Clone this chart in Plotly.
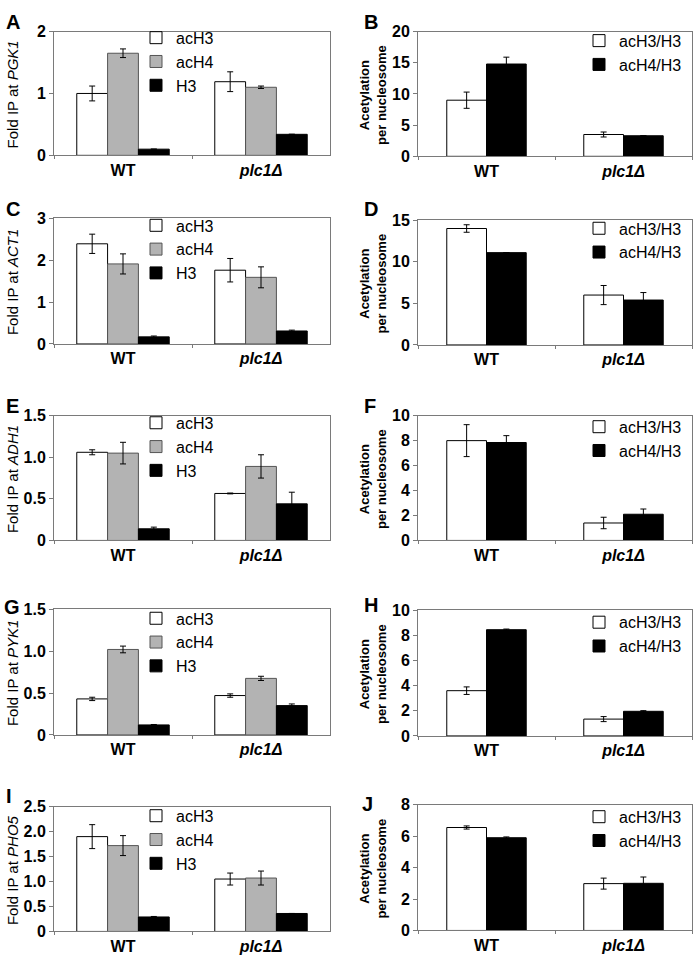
import plotly.graph_objects as go

W, H = 693, 965
groups = ["WT", "plc1Δ"]
group_labels = ["<b>WT</b>", "<b><i>plc1Δ</i></b>"]

# left panels: fold IP (acH3, acH4, H3) -- values and errors per group
genes = ["PGK1", "ACT1", "ADH1", "PYK1", "PHO5"]
ach3 = [[1.0, 1.19], [2.39, 1.76], [1.06, 0.565], [0.43, 0.47], [1.9, 1.05]]
ach3_err = [[0.12, 0.16], [0.23, 0.28], [0.03, 0.005], [0.02, 0.02], [0.24, 0.12]]
ach4 = [[1.65, 1.10], [1.91, 1.59], [1.05, 0.89], [1.02, 0.675], [1.72, 1.07]]
ach4_err = [[0.07, 0.02], [0.24, 0.25], [0.13, 0.14], [0.04, 0.025], [0.2, 0.14]]
h3 = [[0.10, 0.34], [0.17, 0.31], [0.14, 0.44], [0.12, 0.35], [0.29, 0.36]]
h3_err = [[0.0, 0.0], [0.02, 0.02], [0.02, 0.14], [0.005, 0.02], [0.01, 0.0]]
left_ranges = [2, 3, 1.5, 1.5, 2.5]
left_ticks = [
    ["0", "1", "2"],
    ["0", "1", "2", "3"],
    ["0", "0.5", "1.0", "1.5"],
    ["0", "0.5", "1.0", "1.5"],
    ["0", "0.5", "1.0", "1.5", "2.0", "2.5"],
]

# right panels: acetylation per nucleosome
ratio3 = [[9.0, 3.5], [14.0, 6.0], [8.0, 1.4], [3.6, 1.34], [6.55, 2.98]]
ratio3_err = [[1.3, 0.4], [0.45, 1.15], [1.28, 0.46], [0.3, 0.2], [0.1, 0.35]]
ratio4 = [[14.8, 3.3], [11.1, 5.4], [7.85, 2.1], [8.45, 1.96], [5.9, 3.0]]
ratio4_err = [[1.1, 0.0], [0.0, 0.9], [0.55, 0.42], [0.05, 0.05], [0.05, 0.4]]
right_ranges = [20, 15, 10, 10, 8]
right_ticks = [
    ["0", "5", "10", "15", "20"],
    ["0", "5", "10", "15"],
    ["0", "2", "4", "6", "8", "10"],
    ["0", "2", "4", "6", "8", "10"],
    ["0", "2", "4", "6", "8"],
]

letters = ["A", "B", "C", "D", "E", "F", "G", "H", "I", "J"]

# pixel boxes of each plot area: (left, right, top, bottom)
left_boxes = [(54, 330, 24, 150), (54, 330, 214, 342), (54, 330, 415, 542),
              (54, 330, 612, 740), (54, 330, 813, 940)]
right_boxes = [(418, 692, 24, 151), (418, 692, 216, 343), (418, 692, 415, 542),
               (418, 692, 613, 741), (418, 692, 811, 939)]
# y of first legend entry centre (px)
left_leg_y = [34, 225, 426, 625, 826]
right_leg_y = [37, 228, 430, 629, 827]
letter_pos = [(4, 1), (362, 1), (4, 191), (362, 191), (4, 392), (362, 392),
              (2, 596), (362, 594), (4, 789), (360, 797)]
LEG_OFF = 21

FONT = "Liberation Sans, Arial, sans-serif"
FRAME = "#7a7a7a"

fig = go.Figure()
layout = dict(width=W, height=H, margin=dict(l=0, r=0, t=0, b=0),
              paper_bgcolor="white", plot_bgcolor="white", showlegend=True,
              barmode="group", bargap=0.33, font=dict(family=FONT, color="black"))
annotations = []


def dom_x(l, r):
    return [l / W, r / W]


def dom_y(t, b):
    return [1 - b / H, 1 - t / H]


def add_bar(name, y, err, color, line_color, n, leg, width=None, offset=None):
    fig.add_trace(go.Bar(
        x=groups, y=y, name=name, marker=dict(color=color, line=dict(color=line_color, width=1)),
        error_y=dict(type="data", array=err, color="black", thickness=1, width=3),
        xaxis="x" + ("" if n == 1 else str(n)), yaxis="y" + ("" if n == 1 else str(n)),
        legend=leg, width=width, offset=offset,
    ))


for i in range(5):
    for side in range(2):
        n = 2 * i + side + 1
        sfx = "" if n == 1 else str(n)
        leg = "legend" + sfx
        if side == 0:
            box = left_boxes[i]
            add_bar("acH3", ach3[i], ach3_err[i], "white", "black", n, leg)
            add_bar("acH4", ach4[i], ach4_err[i], "#b3b3b3", "#555555", n, leg)
            add_bar("H3", h3[i], h3_err[i], "black", "black", n, leg)
            ymax = left_ranges[i]
            ticks = left_ticks[i]
            leg_x, leg_y = 136, left_leg_y[i] - LEG_OFF
        else:
            box = right_boxes[i]
            add_bar("acH3/H3", ratio3[i], ratio3_err[i], "white", "black", n, leg,
                    width=0.29, offset=-0.29)
            add_bar("acH4/H3", ratio4[i], ratio4_err[i], "black", "black", n, leg,
                    width=0.29, offset=0.0)
            ymax = right_ranges[i]
            ticks = right_ticks[i]
            leg_x, leg_y = 579, right_leg_y[i] - LEG_OFF
        l, r, t, b = box
        tickvals = [float(v) for v in ticks]
        layout["xaxis" + sfx] = dict(
            domain=dom_x(l, r), anchor="y" + sfx, type="category",
            tickvals=groups, ticktext=group_labels, tickson="boundaries",
            ticks="outside", ticklen=3, tickcolor=FRAME,
            showline=True, linecolor=FRAME, linewidth=1, mirror=True,
            showgrid=False, zeroline=False,
            tickfont=dict(family=FONT, size=16, color="black"),
        )
        layout["yaxis" + sfx] = dict(
            domain=dom_y(t, b), anchor="x" + sfx, range=[0, ymax],
            tickvals=tickvals, ticktext=ticks, ticks="outside", ticklen=4, tickcolor=FRAME,
            showline=True, linecolor=FRAME, linewidth=1, mirror=True,
            showgrid=False, zeroline=False,
            tickfont=dict(family=FONT, size=16, color="black", weight="bold"),
        )
        layout[leg] = dict(
            x=leg_x / W, y=1 - leg_y / H, xanchor="left", yanchor="top",
            bgcolor="rgba(0,0,0,0)", borderwidth=0, traceorder="normal",
            font=dict(family=FONT, size=16, color="black"),
        )
        yc = 1 - ((t + b) / 2 + 1) / H
        if side == 0:
            annotations.append(dict(
                text="Fold IP at <i>%s</i>" % genes[i], xref="paper", yref="paper",
                x=12 / W, y=yc, xanchor="center", yanchor="middle",
                textangle=-90, showarrow=False,
                font=dict(family=FONT, size=15, color="black"),
            ))
        else:
            annotations.append(dict(
                text="Acetylation<br>per nucleosome", xref="paper", yref="paper",
                x=373 / W, y=yc, xanchor="center", yanchor="middle",
                textangle=-90, showarrow=False,
                font=dict(family=FONT, size=13, color="black", weight="bold"),
            ))
        lx, ly = letter_pos[n - 1]
        annotations.append(dict(
            text="<b>%s</b>" % letters[n - 1], xref="paper", yref="paper",
            x=lx / W, y=1 - ly / H, xanchor="left", yanchor="top", showarrow=False,
            font=dict(family=FONT, size=20, color="black"),
        ))

layout["annotations"] = annotations
fig.update_layout(**layout)

fig.write_html("out.html", config={"displayModeBar": False},
               post_script="document.body.style.margin='0';")
